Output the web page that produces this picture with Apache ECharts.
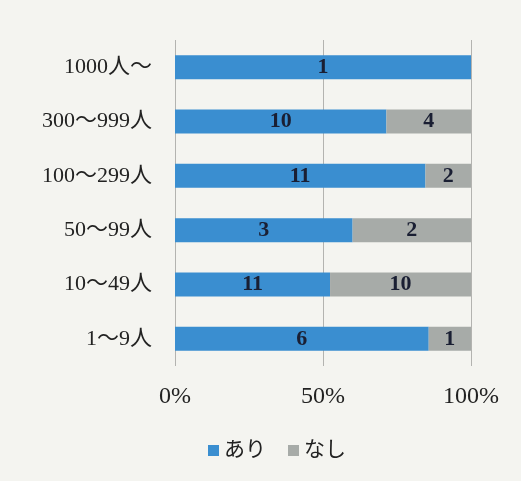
<!DOCTYPE html>
<html><head><meta charset="utf-8">
<script src="https://cdn.jsdelivr.net/npm/echarts@6/dist/echarts.min.js"></script>
<style>html,body{margin:0;padding:0;background:#f4f4f0;}#c{width:521px;height:481px;}</style>
</head><body><div id="c"></div>
<script>
const categories = ['1000人～','300～999人','100～299人','50～99人','10～49人','1～9人'];
const ari = [1,10,11,3,11,6];
const nashi = [0,4,2,2,10,1];
const xTicks = ['0%','50%','100%'];

const cats = categories.slice().reverse();
const ariR = ari.slice().reverse();
const nashiR = nashi.slice().reverse();
const pct = (a,i)=>a[i]/(ariR[i]+nashiR[i])*100;
const font = '"Liberation Serif","Noto Sans CJK JP",serif';
const chart = echarts.init(document.getElementById('c'));
chart.setOption({
  backgroundColor:'#f4f4f0',
  animation:false,
  grid:{left:175,right:50,top:40,bottom:115},
  legend:{top:435,left:203,itemWidth:11,itemHeight:11,itemGap:22,icon:'rect',
    textStyle:{fontFamily:font,fontSize:21,color:'#222'},data:['あり','なし']},
  xAxis:{type:'value',min:0,max:100,interval:50,
    axisLabel:{formatter:v=>xTicks[v/50],fontFamily:font,fontSize:24,color:'#222',margin:19},
    axisLine:{show:false},axisTick:{show:false},
    splitLine:{lineStyle:{color:'#b3b3b0',width:1}}},
  yAxis:{type:'category',data:cats,axisLine:{show:false},axisTick:{show:false},
    axisLabel:{fontFamily:font,fontSize:22,color:'#222',margin:23}},
  series:[
    {name:'あり',type:'bar',stack:'s',barWidth:24,itemStyle:{color:'#3a8ed0'},
     data:ariR.map((v,i)=>({value:pct(ariR,i),cnt:v})),
     label:{show:true,position:'inside',fontFamily:font,fontSize:22,fontWeight:'bold',color:'#1a1f33',
       formatter:p=>p.data.cnt}},
    {name:'なし',type:'bar',stack:'s',barWidth:24,itemStyle:{color:'#a7aba8'},
     data:nashiR.map((v,i)=>({value:pct(nashiR,i),cnt:v})),
     label:{show:true,position:'inside',fontFamily:font,fontSize:22,fontWeight:'bold',color:'#1a1f33',
       formatter:p=>p.data.cnt?p.data.cnt:''}}
  ]
});
</script></body></html>
